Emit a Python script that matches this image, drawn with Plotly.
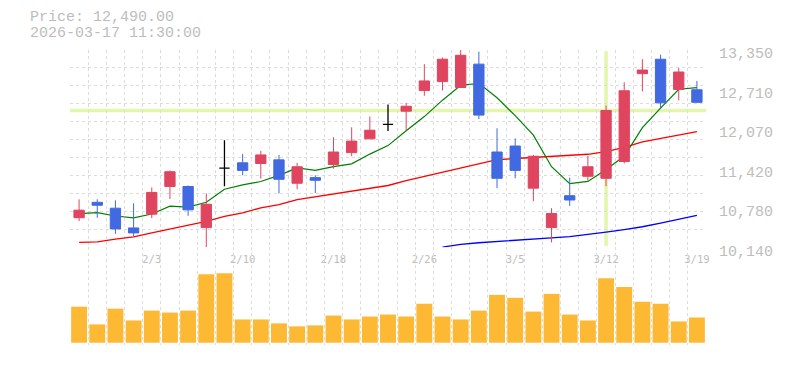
import plotly.graph_objects as go

# ---------------- data ----------------
dates = ["1/28", "1/29", "1/30", "2/2", "2/3", "2/4", "2/5", "2/6", "2/9", "2/10",
         "2/12", "2/13", "2/16", "2/17", "2/18", "2/19", "2/20", "2/24", "2/25", "2/26",
         "2/27", "3/2", "3/3", "3/4", "3/5", "3/6", "3/9", "3/10", "3/11", "3/12",
         "3/13", "3/16", "3/17", "3/18", "3/19"]
label_dates = ["2/3", "2/10", "2/18", "2/26", "3/5", "3/12", "3/19"]

opens = [10622, 10873, 10777, 10456, 10680, 11130, 11130, 10461, 11429, 11515,
         11504, 11563, 11183, 11274, 11488, 11681, 11905, 12141, 12355, 12692,
         12836, 12740, 13120, 11691, 11788, 11103, 10461, 10980, 11296, 11263,
         11536, 12965, 13200, 12708, 12703]
highs = [10921, 10921, 10905, 10857, 11114, 11392, 11146, 11017, 11884, 11659,
         11708, 11643, 11515, 11312, 11932, 12093, 12269, 12462, 12489, 13120,
         13227, 13350, 13323, 12077, 11911, 11643, 10777, 11274, 11627, 12446,
         12826, 13200, 13275, 13056, 12847]
lows = [10568, 10622, 10359, 10311, 10616, 10926, 10654, 10140, 11135, 11312,
        11258, 11017, 11087, 11023, 11419, 11622, 11900, 12034, 12039, 12606,
        12692, 12735, 12226, 11103, 11263, 10889, 10220, 10814, 11231, 11135,
        11504, 12676, 12398, 12531, 12499]
closes = [10745, 10825, 10440, 10375, 11033, 11370, 10750, 10841, 11429, 11392,
          11643, 11247, 11451, 11231, 11691, 11868, 12045, 12141, 12435, 12847,
          13200, 13264, 12291, 11263, 11392, 11622, 10691, 10910, 11451, 12366,
          12687, 13024, 12490, 12992, 12499]
volumes = [1100000, 560000, 1040000, 680000, 980000, 920000, 980000, 2090000, 2120000, 710000,
           710000, 590000, 500000, 530000, 830000, 710000, 800000, 860000, 800000, 1190000,
           800000, 710000, 980000, 1460000, 1370000, 950000, 1490000, 860000, 680000, 1970000,
           1700000, 1250000, 1190000, 650000, 770000]
ma5 = [10690, 10705, 10650, 10620, 10683, 10809, 10794, 10874, 11085, 11156,
       11211, 11310, 11432, 11393, 11453, 11498, 11657, 11795, 12036, 12267,
       12534, 12777, 12807, 12573, 12282, 11966, 11452, 11176, 11213, 11408,
       11621, 12088, 12404, 12712, 12738]
ma25 = [10222, 10228, 10274, 10311, 10375, 10434, 10493, 10563, 10643, 10702,
        10782, 10836, 10916, 10960, 11012, 11058, 11100, 11146, 11226, 11296,
        11360, 11435, 11504, 11565, 11585, 11601, 11612, 11628, 11654, 11697,
        11766, 11857, 11916, 11975, 12023]
ma75 = [None] * 20 + [10145, 10190, 10215, 10238, 10258, 10276, 10295, 10315, 10346, 10388,
                      10430, 10475, 10535, 10598, 10660]

price_ticks = [13350, 12708, 12066, 11424, 10782, 10140]
price_ticktext = ["13,350", "12,710", "12,070", "11,420", "10,780", "10,140"]
title_lines = ["Price: 12,490.00", "2026-03-17 11:30:00"]
focus_index = 29

# ---------------- derived ----------------
n = len(dates)
xs = list(range(n))
ymin, ymax = 10140, 13350
grid_y = [ymin + k * (ymax - ymin) / 11 for k in range(12)]
boundaries = [i - 0.5 for i in range(n + 1)]
label_pos = [dates.index(d) for d in label_dates]
doji = [o == c for o, c in zip(opens, closes)]


def pick(arr, keep):
    return [v if k else None for v, k in zip(arr, keep)]


normal = [not d for d in doji]

RED = "#e04560"
BLUE = "#4169e1"
GRID = "#dcdcdc"
AXIS = "#c4c4c4"
TEXT = "#bdbdbd"
MONO = "Liberation Mono"

fig = go.Figure()

fig.add_trace(go.Scatter(x=xs, y=ma75, mode="lines", line=dict(color="#0000ff", width=1.3),
                         xaxis="x", yaxis="y", zorder=0, hoverinfo="skip"))
fig.add_trace(go.Scatter(x=xs, y=ma25, mode="lines", line=dict(color="#ff0000", width=1.3),
                         xaxis="x", yaxis="y", zorder=0, hoverinfo="skip"))
fig.add_trace(go.Scatter(x=xs, y=ma5, mode="lines", line=dict(color="#008000", width=1.2),
                         xaxis="x", yaxis="y", zorder=0, hoverinfo="skip"))

fig.add_trace(go.Candlestick(
    x=xs, open=pick(opens, normal), high=pick(highs, normal), low=pick(lows, normal),
    close=pick(closes, normal), xaxis="x", yaxis="y", zorder=1,
    increasing=dict(line=dict(color=RED, width=1), fillcolor=RED),
    decreasing=dict(line=dict(color=BLUE, width=1), fillcolor=BLUE),
    whiskerwidth=0))
fig.add_trace(go.Candlestick(
    x=xs, open=pick(opens, doji), high=pick(highs, doji), low=pick(lows, doji),
    close=pick(closes, doji), xaxis="x", yaxis="y", zorder=1,
    increasing=dict(line=dict(color="#000000", width=1.3), fillcolor="#000000"),
    decreasing=dict(line=dict(color="#000000", width=1.3), fillcolor="#000000"),
    whiskerwidth=0))

# empty trace so that the right-hand price label axis is rendered
fig.add_trace(go.Scatter(x=[], y=[], xaxis="x", yaxis="y3", hoverinfo="skip"))

fig.add_trace(go.Bar(x=xs, y=volumes, marker=dict(color="#fdb834", line=dict(width=0)),
                     xaxis="x2", yaxis="y2"))

# crosshair
fig.add_shape(type="line", xref="x", yref="y domain", x0=xs[focus_index], x1=xs[focus_index],
              y0=0.006, y1=0.994, line=dict(color="#e4f5ad", width=3.5), layer="below")
fig.add_shape(type="line", xref="x domain", yref="y", x0=0, x1=1,
              y0=closes[focus_index], y1=closes[focus_index],
              line=dict(color="#e4f5ad", width=3.5), layer="below")

PRICE_BOTTOM = 0.331

fig.update_layout(
    width=785, height=370,
    margin=dict(l=70, r=75, t=50, b=20),
    paper_bgcolor="white", plot_bgcolor="rgba(0,0,0,0)",
    showlegend=False, boxgap=0.19, bargap=0.125,
    xaxis=dict(
        domain=[0, 1], anchor="y", range=[-0.5, n - 0.5],
        tickmode="array", tickvals=label_pos, ticktext=label_dates,
        ticks="", showgrid=False, showline=False, zeroline=False,
        rangeslider=dict(visible=False), ticklabelstandoff=4,
        tickfont=dict(family="DejaVu Sans Mono", size=10.5, color=TEXT),
        minor=dict(tickmode="array", tickvals=boundaries, showgrid=True,
                   gridcolor=GRID, griddash="3px,3px", gridwidth=1, ticks=""),
    ),
    yaxis=dict(
        domain=[PRICE_BOTTOM, 1], anchor="x", range=[ymin, ymax],
        tickmode="array", tickvals=grid_y, showticklabels=False,
        showgrid=True, gridcolor=GRID, griddash="3px,3px", gridwidth=1,
        zeroline=False, ticks="", showline=False,
    ),
    yaxis3=dict(
        overlaying="y", anchor="x", side="right", range=[ymin, ymax],
        tickmode="array", tickvals=price_ticks, ticktext=price_ticktext,
        showgrid=False, zeroline=False, ticks="", showline=True,
        linecolor=AXIS, linewidth=1, ticklabelshift=3, ticklabelstandoff=9,
        tickfont=dict(family=MONO, size=15, color=TEXT),
    ),
    xaxis2=dict(
        domain=[0, 1], anchor="y2", matches="x", range=[-0.5, n - 0.5],
        tickmode="array", tickvals=boundaries, showticklabels=False,
        showgrid=True, gridcolor=GRID, griddash="3px,3px", gridwidth=1,
        ticks="", zeroline=False, showline=True, mirror=True,
        linecolor=AXIS, linewidth=1,
    ),
    yaxis2=dict(
        domain=[0, PRICE_BOTTOM], anchor="x2", range=[-69000, 2910000],
        showgrid=False, showticklabels=False, zeroline=False, ticks="",
        showline=True, side="right", linecolor=AXIS, linewidth=1,
    ),
)

fig.add_annotation(text=title_lines[0], xref="paper", yref="paper", x=0, y=1, xshift=-42,
                   yshift=32.5, xanchor="left", yanchor="middle", showarrow=False,
                   font=dict(family=MONO, size=15, color=TEXT))
fig.add_annotation(text=title_lines[1], xref="paper", yref="paper", x=0, y=1, xshift=-42,
                   yshift=17, xanchor="left", yanchor="middle", showarrow=False,
                   font=dict(family=MONO, size=15, color=TEXT))

# remove the browser's default page margin so the figure sits at the window origin
fig.write_html(
    "out.html",
    config={"displayModeBar": False, "staticPlot": True},
    post_script="document.body.style.margin='0';"
                "document.documentElement.style.overflow='hidden';",
)
